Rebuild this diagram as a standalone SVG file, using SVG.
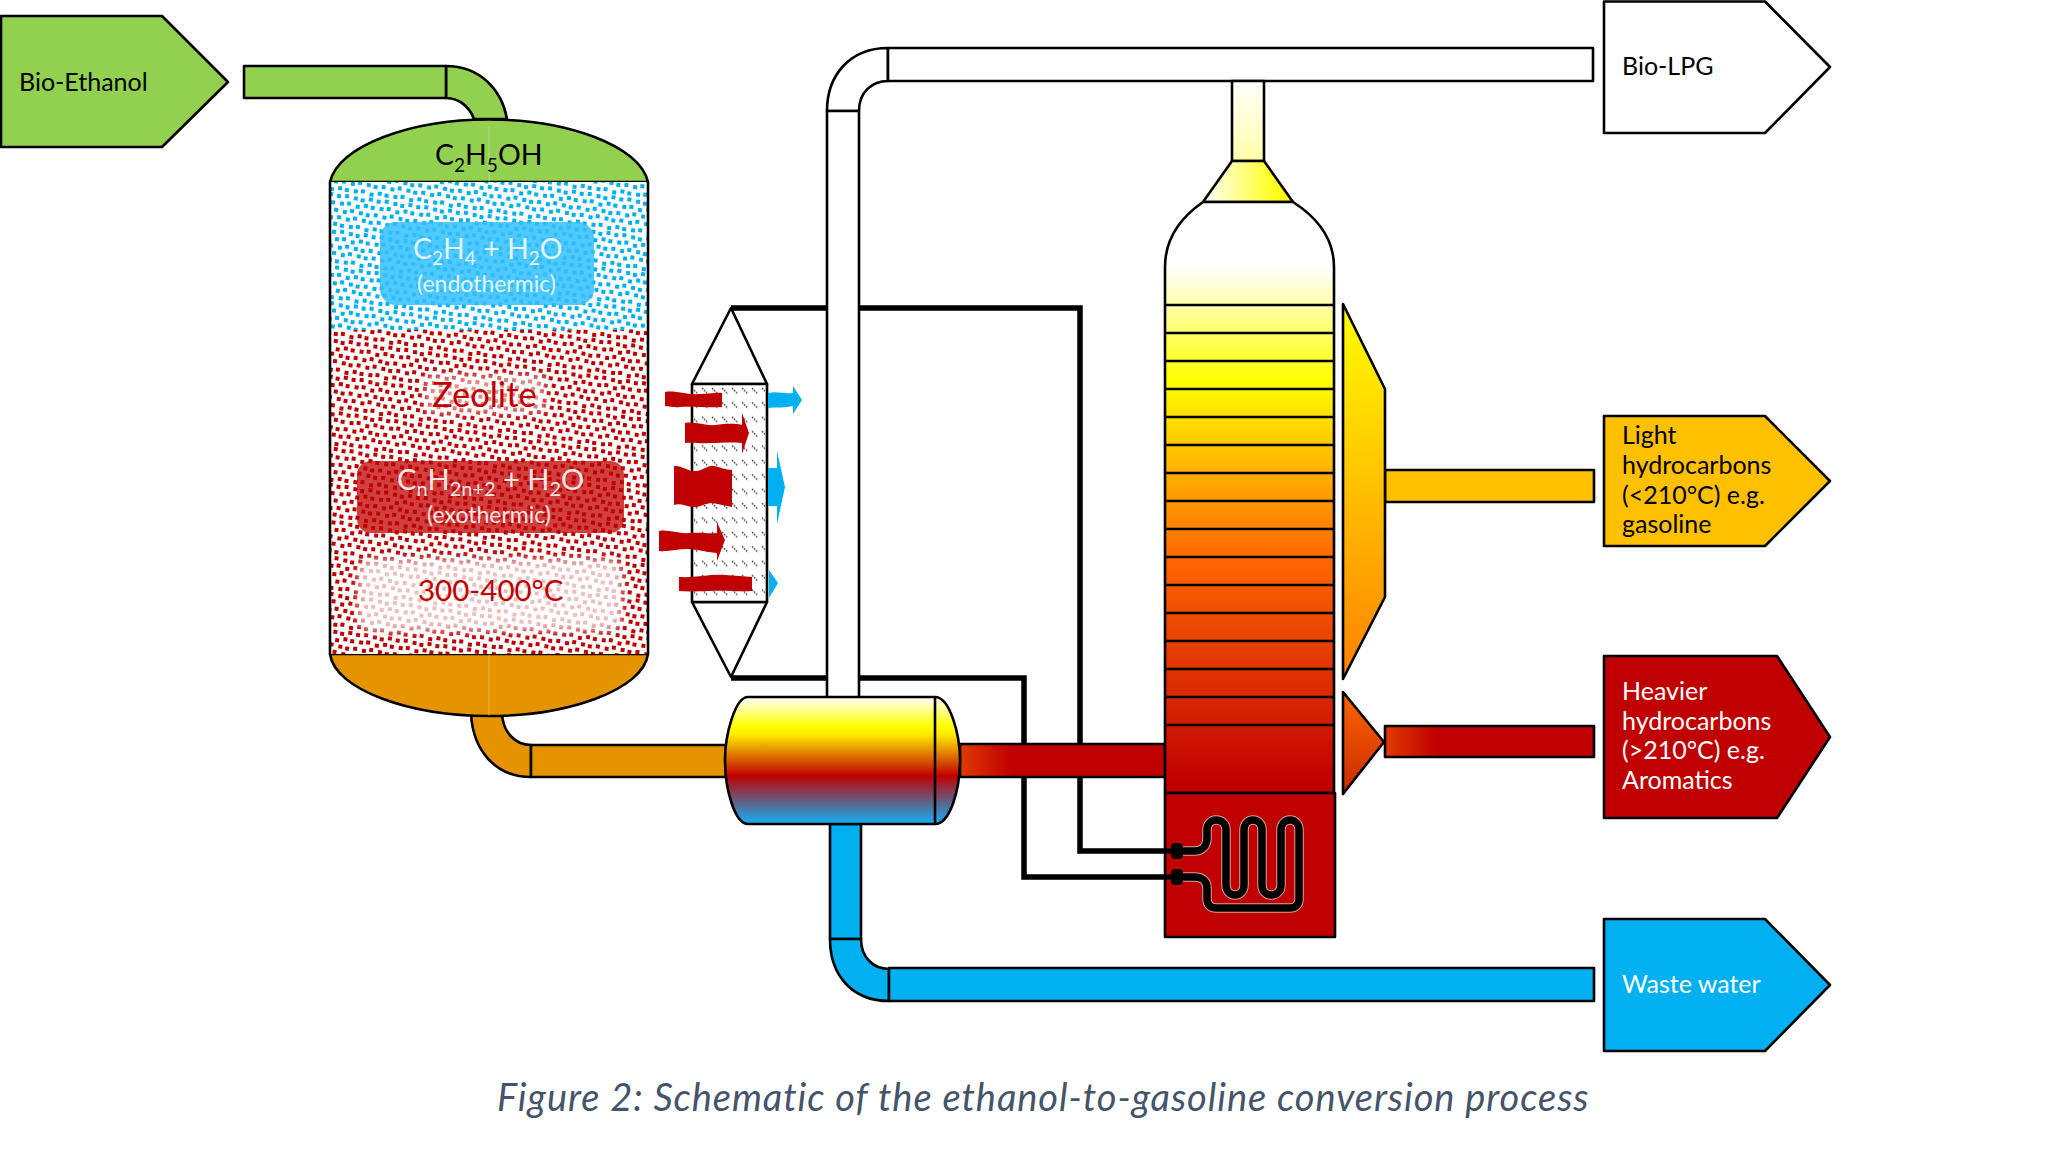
<svg xmlns="http://www.w3.org/2000/svg" width="2045" height="1168" viewBox="0 0 2045 1168">
<style>
text{font-family:Lato,"Open Sans","Liberation Sans",sans-serif}
.s{stroke:#000;stroke-width:2.6;stroke-linejoin:round}
.n{fill:none;stroke:#000;stroke-width:2.6}
.b{fill:none;stroke:#000;stroke-width:5.500;stroke-linejoin:miter}
.lab{font-size:25px;fill:#000}
.labw{font-size:25px;fill:#fff}
.big{font-size:29px}
.sm{font-size:23px}
.red{fill:#c00000}
.blu{fill:#00b0f0}
.cap{font-size:38px;font-style:italic;fill:#44546a;letter-spacing:.95px}
</style>
<defs>
<path id="dotset" d="M1 1h4v4h-4zM9 0h4v4h-4zM18 1h4v4h-4zM25 2h4v4h-4zM33 0h4v4h-4zM5 8h4v4h-4zM12 7h4v4h-4zM21 9h4v4h-4zM29 7h4v4h-4zM36 8h4v4h-4zM0 15h4v4h-4zM9 16h4v4h-4zM16 14h4v4h-4zM25 15h4v4h-4zM32 16h4v4h-4zM4 22h4v4h-4zM13 23h4v4h-4zM20 21h4v4h-4zM29 22h4v4h-4zM36 23h4v4h-4zM1 29h4v4h-4zM8 30h4v4h-4zM17 30h4v4h-4zM24 29h4v4h-4zM33 31h4v4h-4z"/>
<pattern id="dotsBlue" width="40" height="36" patternUnits="userSpaceOnUse" patternTransform="rotate(8)"><use href="#dotset" fill="#00b0f0"/></pattern>
<pattern id="dotsRed" width="40" height="36" patternUnits="userSpaceOnUse" patternTransform="rotate(8)"><use href="#dotset" fill="#c00000"/></pattern>
<pattern id="hatch" width="10" height="14.4" patternUnits="userSpaceOnUse" y="386"><path d="M2 2l6 6" stroke="#555" stroke-width="1.500" stroke-dasharray="1.800 1" fill="none"/></pattern>
<filter id="soft" x="-10%" y="-20%" width="120%" height="140%"><feGaussianBlur stdDeviation="4"/></filter>
<linearGradient id="gTower" gradientUnits="userSpaceOnUse" x1="0" y1="267" x2="0" y2="793"><stop offset="0" stop-color="#fff"/><stop offset=".215" stop-color="#ff0"/><stop offset=".557" stop-color="#f60"/><stop offset=".98" stop-color="#c00000"/></linearGradient>
<linearGradient id="gNeck" x1="0" y1="0" x2="0" y2="1"><stop offset="0" stop-color="#fff"/><stop offset="1" stop-color="#ffffa8"/></linearGradient>
<linearGradient id="gCone" x1="0" y1="0" x2="1" y2="0"><stop offset="0" stop-color="#fff"/><stop offset=".9" stop-color="#ff0"/></linearGradient>
<linearGradient id="gHx" x1="0" y1="0" x2="0" y2="1"><stop offset="0" stop-color="#fff"/><stop offset=".23" stop-color="#ff0"/><stop offset=".3" stop-color="#ffe800"/><stop offset=".62" stop-color="#c00000"/><stop offset=".98" stop-color="#1aa8ea"/></linearGradient>
<linearGradient id="gRedPipe" x1="0" y1="0" x2="1" y2="0"><stop offset="0" stop-color="#e03a00"/><stop offset=".25" stop-color="#c00000"/></linearGradient>
<linearGradient id="gSide1" x1="0" y1="0" x2="0" y2="1"><stop offset="0" stop-color="#ff0"/><stop offset=".5" stop-color="#ffbf00"/><stop offset="1" stop-color="#ff8000"/></linearGradient>
<linearGradient id="gSide2" x1="0" y1="0" x2="0" y2="1"><stop offset="0" stop-color="#f60"/><stop offset="1" stop-color="#c82800"/></linearGradient>
</defs>
<rect width="2045" height="1168" fill="#fff"/>

<g id="connectors">
<path class="b" d="M731 308H1080V851H1172"/>
<path class="b" d="M731 678H1024V877H1172"/>
<g id="pipe-feed"><path class="s" fill="#92d050" d="M446 66C480 66 502 90 507 119H474C470 108 460 98 446 98Z"/><rect class="s" fill="#92d050" x="244" y="66" width="202" height="32"/></g>
<g id="pipe-bottoms"><path class="s" fill="#e59400" d="M471 714C473 750 495 777 531 777V745C515 745 503 732 502 714Z"/><rect class="s" fill="#e59400" x="531" y="745" width="195" height="32"/></g>
<g id="pipe-lpg"><path class="s" fill="#fff" d="M827 111C827 75 850 48 888 48V81C872 81 859 92 859 111Z"/><rect class="s" fill="#fff" x="827" y="111" width="32" height="587"/><rect class="s" fill="#fff" x="888" y="48" width="705" height="33"/></g>
<rect id="pipe-overhead" class="s" fill="url(#gNeck)" x="1232" y="81" width="32" height="80"/>
<rect id="pipe-recycle" class="s" fill="url(#gRedPipe)" x="960" y="744" width="205" height="33"/>
<g id="pipe-water"><rect class="s" fill="#00b0f0" x="830" y="824" width="31" height="115"/><path class="s" fill="#00b0f0" d="M830 939C830 975 852 1001 889 1001V969C873 969 861 957 861 939Z"/><rect class="s" fill="#00b0f0" x="889" y="968" width="705" height="33"/></g>
<rect id="pipe-light" class="s" fill="#ffc000" x="1385" y="470" width="209" height="32"/>
<rect id="pipe-heavy" class="s" fill="url(#gRedPipe)" x="1385" y="726" width="209" height="31"/>
</g>

<g id="bio-ethanol"><path class="s" fill="#92d050" d="M1 16H162L228 82L162 147H1Z"/><text class="lab" x="19" y="91">Bio-Ethanol</text></g>

<g id="reactor">
<path class="s" fill="#92d050" d="M330 182C338 146 410 119.500 489 119.500C568 119.500 640 146 648 182Z"/>
<path fill="#e59400" class="s" d="M330 654C335 690 410 716 489 716C568 716 643 690 648 654Z"/>
<rect x="330" y="182" width="318" height="148" fill="#fff"/>
<rect x="330" y="182" width="318" height="148" fill="url(#dotsBlue)"/>
<rect x="330" y="330" width="318" height="324" fill="#fff"/>
<rect x="330" y="330" width="318" height="324" fill="url(#dotsRed)"/>
<path class="n" d="M330 182V654M648 182V654"/>
<path d="M489 126V182M489 654V716" stroke="#fff" stroke-opacity=".3" stroke-width="1" fill="none"/>
<text x="435" y="165" font-size="28.500">C<tspan font-size="19" dy="7">2</tspan><tspan dy="-7">H</tspan><tspan font-size="19" dy="7">5</tspan><tspan dy="-7">OH</tspan></text>
<rect x="380" y="222" width="214" height="83" rx="16" fill="#33bfff" fill-opacity=".85"/>
<text x="413" y="259" fill="#fff" fill-opacity=".85" font-size="28.500">C<tspan font-size="19" dy="6">2</tspan><tspan dy="-6">H</tspan><tspan font-size="19" dy="6">4</tspan><tspan dy="-6"> + H</tspan><tspan font-size="19" dy="6">2</tspan><tspan dy="-6">O</tspan></text>
<text class="sm" x="417" y="292" fill="#fff" fill-opacity=".85">(endothermic)</text>
<rect x="425" y="375" width="120" height="38" fill="#fff" fill-opacity=".55" filter="url(#soft)"/>
<text x="432" y="407" font-size="34.500" fill="#c00000">Zeolite</text>
<rect x="357" y="461" width="267" height="72" rx="14" fill="#c00000" fill-opacity=".75"/>
<text class="big" x="397" y="490" fill="#fff" fill-opacity=".9">C<tspan font-size="20" dy="6">n</tspan><tspan dy="-6">H</tspan><tspan font-size="20" dy="6">2n+2</tspan><tspan dy="-6"> + H</tspan><tspan font-size="20" dy="6">2</tspan><tspan dy="-6">O</tspan></text>
<text class="sm" x="427" y="523" fill="#fff" fill-opacity=".9">(exothermic)</text>
<rect x="358" y="559" width="264" height="72" rx="14" fill="#fff" fill-opacity=".75" filter="url(#soft)"/>
<text x="418" y="601" font-size="29.500" fill="#c00000">300-400°C</text>
</g>

<g id="heat-exchanger">
<path class="s" fill="#fff" d="M692 384L731 308L767 384Z"/>
<path class="s" fill="#fff" d="M692 602L731 677L767 602Z"/>
<rect class="s" fill="#fff" x="692" y="384" width="75" height="218"/>
<rect x="694" y="386" width="71" height="214" fill="url(#hatch)"/>
<path class="red" d="M665 392C675 390 685 395 700 394C708 394 715 392 722 393V407C708 408 690 406 680 407C674 408 670 406 665 406Z"/>
<path class="red" d="M685 423C695 421 705 426 715 425C725 424 733 423 742 425V413L749 433L742 454V443C730 442 720 443 710 443C700 444 695 442 685 443Z"/>
<path class="red" d="M674 466C682 465 688 472 697 471C704 470 708 465 714 466C720 467 726 470 732 470V507C725 506 720 504 712 503C705 503 700 508 692 507C685 506 680 503 674 505Z"/>
<path class="red" d="M659 531C668 529 678 534 690 533C700 532 708 534 717 533V522L725 540L717 561V553C705 552 697 549 688 549C678 549 668 552 659 551Z"/>
<path class="red" d="M679 577C695 578 710 574 725 575C735 576 744 576 752 577V591C740 592 725 590 710 591C700 591 690 592 679 591Z"/>
<path class="blu" d="M768 393C776 391 785 394 793 393V386L802 400L793 414V406C785 408 776 407 768 408Z"/>
<path class="blu" d="M768 468L777 468V451L785 487L777 524V506L768 506Z"/>
<path class="blu" d="M769 570L778 583L769 598Z"/>
</g>

<g id="separator">
<path class="s" fill="url(#gHx)" d="M748 697H935C950 697 960 735 960 760C960 790 950 824 935 824H748C735 824 725 790 725 760C725 735 735 697 748 697Z"/>
<path class="n" d="M935 697V824" stroke-width="2"/>
</g>

<g id="column">
<path class="s" fill="url(#gCone)" d="M1232 161H1264L1293 202H1203Z"/>
<path class="s" fill="url(#gTower)" d="M1165 793V267C1165 238 1180 218 1203 202H1293C1318 218 1334 238 1334 267V793Z"/>
<path class="n" d="M1165 305H1334M1165 333H1334M1165 361H1334M1165 389H1334M1165 417H1334M1165 445H1334M1165 473H1334M1165 501H1334M1165 529H1334M1165 557H1334M1165 585H1334M1165 613H1334M1165 641H1334M1165 669H1334M1165 697H1334M1165 725H1334"/>
<rect class="s" fill="#c00000" x="1165" y="793" width="170" height="144"/>
<path d="M1177 851H1195C1202 851 1207 846 1207 838V830C1207 824 1211 820 1216 820C1222 820 1226 824 1226 830V885C1226 891 1230 895 1235 895C1240 895 1244 891 1244 885V830C1244 824 1248 820 1253 820C1258 820 1262 824 1262 830V885C1262 891 1266 895 1271 895C1277 895 1281 891 1281 885V830C1281 824 1285 820 1290 820C1295 820 1299 824 1299 830V899C1299 905 1295 908 1290 908H1216C1211 908 1207 905 1207 899V888C1207 881 1202 877 1195 877H1177" fill="none" stroke="#d9a0a0" stroke-width="9.500"/>
<path d="M1177 851H1195C1202 851 1207 846 1207 838V830C1207 824 1211 820 1216 820C1222 820 1226 824 1226 830V885C1226 891 1230 895 1235 895C1240 895 1244 891 1244 885V830C1244 824 1248 820 1253 820C1258 820 1262 824 1262 830V885C1262 891 1266 895 1271 895C1277 895 1281 891 1281 885V830C1281 824 1285 820 1290 820C1295 820 1299 824 1299 830V899C1299 905 1295 908 1290 908H1216C1211 908 1207 905 1207 899V888C1207 881 1202 877 1195 877H1177" fill="none" stroke="#000" stroke-width="7.500"/>
<path d="M1165 851H1180M1165 877H1180" stroke="#000" stroke-width="5"/>
<rect x="1171" y="843" width="12" height="16" rx="4"/>
<rect x="1171" y="869" width="12" height="16" rx="4"/>
<path class="s" fill="url(#gSide1)" d="M1343 304L1385 389V597L1343 679Z"/>
<path class="s" fill="url(#gSide2)" d="M1343 692L1384 742L1343 794Z"/>
</g>

<g id="bio-lpg"><path class="s" fill="#fff" d="M1604 1.500H1765L1830 67L1765 133H1604Z"/><text class="lab" x="1622" y="75">Bio-LPG</text></g>
<g id="light-hc"><path class="s" fill="#ffc000" d="M1604 416H1765L1830 481L1765 546H1604Z"/><text class="lab" x="1622" y="444">Light</text><text class="lab" x="1622" y="474">hydrocarbons</text><text class="lab" x="1622" y="504">(&lt;210°C) e.g.</text><text class="lab" x="1622" y="533">gasoline</text></g>
<g id="heavy-hc"><path class="s" fill="#c00000" d="M1604 656H1777L1830 737L1777 818H1604Z"/><text class="labw" x="1622" y="700">Heavier</text><text class="labw" x="1622" y="730">hydrocarbons</text><text class="labw" x="1622" y="759">(&gt;210°C) e.g.</text><text class="labw" x="1622" y="789">Aromatics</text></g>
<g id="waste-water"><path class="s" fill="#00b0f0" d="M1604 919H1765L1830 985L1765 1051H1604Z"/><text class="labw" x="1622" y="993">Waste water</text></g>
<text class="cap" x="497" y="1111">Figure 2: Schematic of the ethanol-to-gasoline conversion process</text>
</svg>
